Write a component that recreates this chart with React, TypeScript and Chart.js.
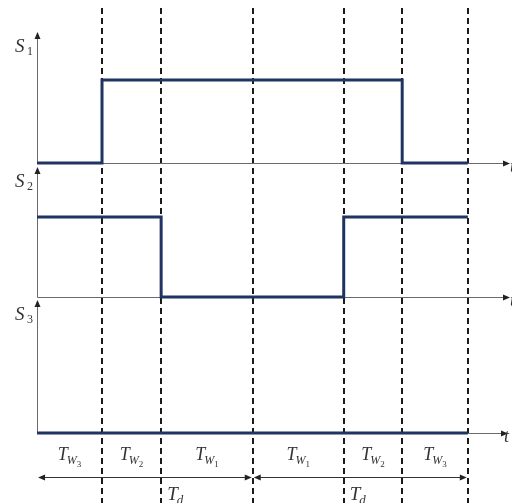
import React, { useEffect, useRef } from "react";
import { Chart, registerables } from "chart.js";

Chart.register(...registerables);

// Time boundaries of the six intervals (arbitrary time units)
const boundaries = [0, 1.0, 1.91, 3.32, 4.72, 5.62, 6.63];
// Interval labels: T_{W_k}
const intervalSubs = ["3", "2", "1", "1", "2", "3"];
// Signal levels per interval (0 = low, 1 = high)
const s1Levels = [0, 1, 1, 1, 1, 0];
const s2Levels = [1, 1, 0, 0, 1, 1];
const s3Levels = [0, 0, 0, 0, 0, 0];
const channelNames = ["1", "2", "3"];
// Vertical offsets of each channel's baseline and its high-level amplitude
const channelBase = [2.70, 1.36, 0];
const channelAmp = [0.83, 0.8, 0.8];
const axisHeight = [1.31, 1.3, 1.33];
// T_d spans (indices into boundaries)
const tdSpans = [[0, 3], [3, 6]];
const tdLabelAt = [2, 4];

const LINE = "#1f3462";
const AXIS = "#6a6a6a";

function stepData(levels: number[], base: number, amp: number) {
  return boundaries.map((t, i) => ({
    x: t,
    y: base + amp * levels[Math.min(i, levels.length - 1)],
  }));
}

const overlay = {
  id: "timingOverlay",
  beforeDatasetsDraw(chart: any) {
    const { ctx, scales } = chart;
    const xs = scales.x;
    const ys = scales.y;
    const px = (v: number) => xs.getPixelForValue(v);
    const py = (v: number) => ys.getPixelForValue(v);
    ctx.save();

    // dashed vertical lines
    ctx.strokeStyle = "#1a1a1a";
    ctx.lineWidth = 2;
    ctx.setLineDash([6, 4]);
    for (let i = 1; i < boundaries.length; i++) {
      const x = Math.round(px(boundaries[i]));
      ctx.beginPath();
      ctx.moveTo(x, 8);
      ctx.lineTo(x, chart.height);
      ctx.stroke();
    }
    ctx.setLineDash([]);

    // axes
    const x0 = Math.round(px(0)) + 0.5;
    channelBase.forEach((b, k) => {
      const yb = Math.round(py(b)) + 0.5;
      const yt = py(b + axisHeight[k]);
      ctx.strokeStyle = AXIS;
      ctx.fillStyle = "#222";
      ctx.lineWidth = 1;
      const xEnd = k === 2 ? 508 : 510;
      ctx.beginPath();
      ctx.moveTo(x0, yb);
      ctx.lineTo(xEnd - 4, yb);
      ctx.stroke();
      ctx.beginPath();
      ctx.moveTo(xEnd, yb);
      ctx.lineTo(xEnd - 7, yb - 3);
      ctx.lineTo(xEnd - 7, yb + 3);
      ctx.closePath();
      ctx.fill();
      ctx.beginPath();
      ctx.moveTo(x0, yb);
      ctx.lineTo(x0, yt + 5);
      ctx.stroke();
      ctx.beginPath();
      ctx.moveTo(x0, yt);
      ctx.lineTo(x0 - 3, yt + 7);
      ctx.lineTo(x0 + 3, yt + 7);
      ctx.closePath();
      ctx.fill();
      ctx.fillStyle = "#333";
      ctx.textBaseline = "alphabetic";
      ctx.textAlign = "left";
      ctx.font = "italic 19px 'Liberation Serif', serif";
      ctx.fillText("S", 15, yt + 20);
      ctx.font = "12px 'Liberation Serif', serif";
      ctx.fillText(channelNames[k], 27, yt + 23);
      ctx.font = "italic 18px 'Liberation Serif', serif";
      ctx.fillText("t", k === 2 ? 504 : 510, yb + 8);
    });

    // interval labels T_{W_k}
    const labelY = 460;
    for (let i = 0; i < intervalSubs.length; i++) {
      const cx = (px(boundaries[i]) + px(boundaries[i + 1])) / 2;
      ctx.fillStyle = "#333";
      ctx.textAlign = "left";
      ctx.font = "italic 18px 'Liberation Serif', serif";
      const wT = ctx.measureText("T").width;
      ctx.font = "italic 12px 'Liberation Serif', serif";
      const wW = ctx.measureText("W").width;
      ctx.font = "9px 'Liberation Serif', serif";
      const wD = ctx.measureText(intervalSubs[i]).width;
      const total = wT + wW + wD - 1;
      let x = cx - total / 2;
      ctx.font = "italic 18px 'Liberation Serif', serif";
      ctx.fillText("T", x, labelY);
      x += wT - 1;
      ctx.font = "italic 12px 'Liberation Serif', serif";
      ctx.fillText("W", x, labelY + 4);
      x += wW;
      ctx.font = "9px 'Liberation Serif', serif";
      ctx.fillText(intervalSubs[i], x, labelY + 7);
    }

    // T_d double arrows
    const ay = 477.5;
    ctx.strokeStyle = "#333";
    ctx.fillStyle = "#222";
    ctx.lineWidth = 1;
    tdSpans.forEach(([a, b], k) => {
      const xa = px(boundaries[a]) + 1;
      const xb = px(boundaries[b]) - 1;
      ctx.beginPath();
      ctx.moveTo(xa + 4, ay);
      ctx.lineTo(xb - 4, ay);
      ctx.stroke();
      ctx.beginPath();
      ctx.moveTo(xa, ay);
      ctx.lineTo(xa + 7, ay - 3);
      ctx.lineTo(xa + 7, ay + 3);
      ctx.closePath();
      ctx.fill();
      ctx.beginPath();
      ctx.moveTo(xb, ay);
      ctx.lineTo(xb - 7, ay - 3);
      ctx.lineTo(xb - 7, ay + 3);
      ctx.closePath();
      ctx.fill();
      const lx = px(boundaries[tdLabelAt[k]]) + 6;
      ctx.fillStyle = "#333";
      ctx.font = "italic 19px 'Liberation Serif', serif";
      ctx.fillText("T", lx, 500);
      const w = ctx.measureText("T").width;
      ctx.font = "italic 13px 'Liberation Serif', serif";
      ctx.fillText("d", lx + w - 1, 504);
      ctx.fillStyle = "#222";
    });

    ctx.restore();
  },
};

export default function App() {
  const ref = useRef<HTMLCanvasElement | null>(null);
  useEffect(() => {
    if (!ref.current) return;
    const chart = new Chart(ref.current, {
      type: "line",
      data: {
        datasets: [
          { data: stepData(s1Levels, channelBase[0], channelAmp[0]) },
          { data: stepData(s2Levels, channelBase[1], channelAmp[1]) },
          { data: stepData(s3Levels, channelBase[2], channelAmp[2]) },
        ].map((d) => ({
          ...d,
          stepped: "before" as const,
          borderColor: LINE,
          borderWidth: 3,
          pointRadius: 0,
          fill: false,
          tension: 0,
        })),
      },
      options: {
        animation: false,
        responsive: false,
        maintainAspectRatio: false,
        layout: { padding: 0 },
        plugins: { legend: { display: false }, tooltip: { enabled: false } },
        scales: {
          x: { type: "linear", display: false, min: -0.57, max: 7.31 },
          y: { type: "linear", display: false, min: -0.7, max: 4.33 },
        },
      },
      plugins: [overlay],
    });
    return () => chart.destroy();
  }, []);
  return (
    <div style={{ position: "absolute", left: 0, top: 0, width: 512, height: 503, background: "#fff" }}>
      <canvas ref={ref} width={512} height={503} />
    </div>
  );
}
